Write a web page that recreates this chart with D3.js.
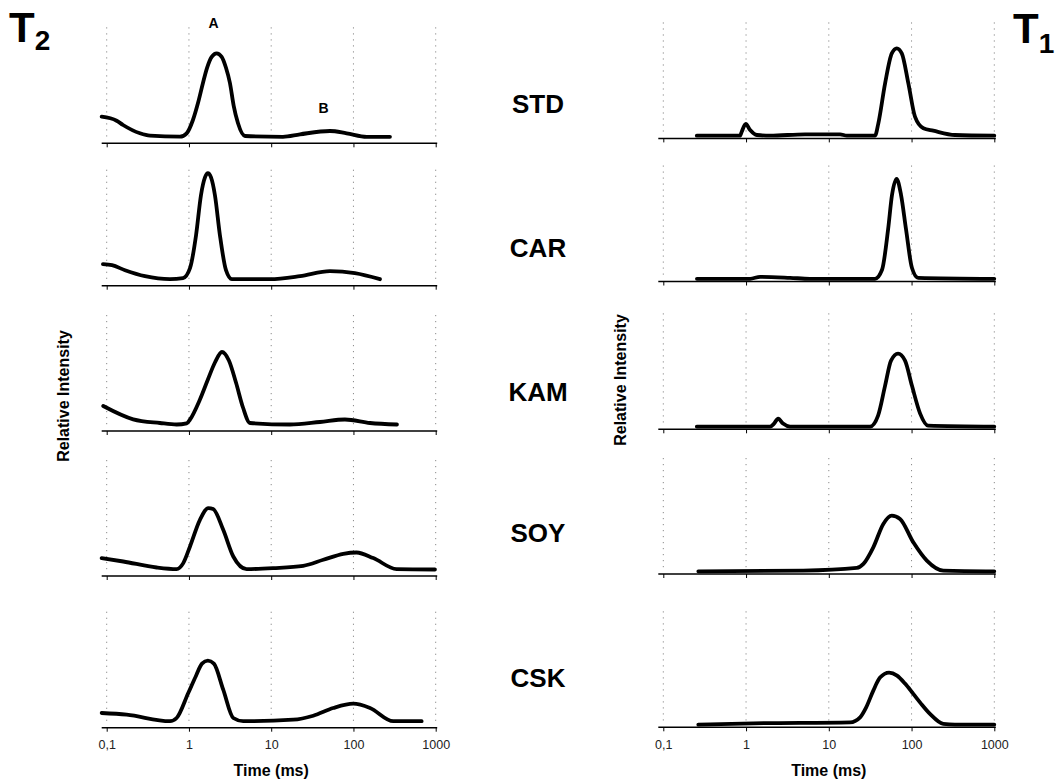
<!DOCTYPE html>
<html>
<head>
<meta charset="utf-8">
<script src="https://cdn.jsdelivr.net/npm/d3@7"></script>
<style>
  html, body { margin: 0; padding: 0; background: #fff; }
  svg { display: block; font-family: "Liberation Sans", Arial, Helvetica, sans-serif; }
</style>
</head>
<body>
<svg id="chart" width="1059" height="783"></svg>
<script>
// Relaxation time distributions, T2 (left column) and T1 (right column)
const samples = ["STD", "CAR", "KAM", "SOY", "CSK"];
const tickValues = [0.1, 1, 10, 100, 1000];
const tickLabels = ["0,1", "1", "10", "100", "1000"];

// [time (ms), relative intensity (a.u.)]
const t2STD = [[0.0868,20.1],[0.132,16.1],[0.158,11.8],[0.254,3.5],[0.336,1.1],[0.778,0.1],[0.938,3.5],[1.118,16.8],[1.30,35],[1.48,53.8],[1.66,69],[1.89,80],[2.17,83.5],[2.50,80],[2.82,69],[3.15,53.8],[3.50,31],[3.94,13.8],[4.80,0.8],[13.9,0],[22.4,2.5],[51.8,5.8],[82.6,3.5],[145,0],[278,0]];
const t2CAR = [[0.090,15],[0.116,14],[0.167,9],[0.292,3],[0.588,0],[0.846,1],[1.03,11],[1.22,44],[1.40,84],[1.57,102],[1.70,106],[1.85,102],[2.07,84],[2.38,44],[2.82,9],[3.33,0],[9.66,0],[22.4,3],[51.8,8],[104,6],[210,0]];
const t2KAM = [[0.0908,18.5],[0.210,5.2],[0.444,1.5],[0.708,0],[0.938,1.2],[1.03,5],[1.36,25],[1.70,45],[2.07,62],[2.52,72.5],[3.06,64],[3.73,42],[4.54,17],[5.52,1.5],[16.9,0],[39.2,2.5],[78.8,5],[159,1.5],[338,0]];
const t2SOY = [[0.0868,11.4],[0.159,8],[0.405,2],[0.708,0.4],[0.853,6.4],[1.03,23],[1.36,49.7],[1.72,61.4],[1.97,60.4],[2.61,39.7],[3.46,13],[5.03,0.4],[10.6,1.4],[24.5,3.7],[43.0,9.7],[75.2,15.7],[109,17],[174,11.4],[335,0.4],[979,0]];
const t2CSK = [[0.0868,8.2],[0.175,6.5],[0.588,0],[0.708,3.2],[0.981,28.2],[1.22,45.5],[1.44,57.5],[1.70,60.5],[2.01,57.5],[2.61,31.5],[3.46,3.2],[4.57,0],[18.5,1.5],[32.5,5.5],[56.8,13.2],[99.5,17.5],[159,13.2],[305,0],[675,0]];

const t1STD = [[0.254,0],[0.846,0],[0.887,4],[0.992,11.7],[1.12,5.7],[1.35,0.7],[1.95,0],[5.16,1.4],[13.7,1.4],[16.5,0],[36.2,0],[39.7,12.4],[47.9,52.4],[57.7,82.4],[66.3,87.4],[76.2,82.4],[91.5,52.4],[110,19],[139,7.4],[183,5],[335,0.7],[1000,0]];
const t1CAR = [[0.255,0],[1.12,0],[1.48,2],[3.40,1],[5.93,0],[36.2,0],[44.0,9],[52.0,49],[58.1,84],[65.9,100],[74.6,84],[85.9,49],[101,11],[120,1],[1000,0]];
const t1KAM = [[0.254,0],[1.95,0],[2.18,3],[2.44,8],[2.80,3],[3.40,0],[31.5,0],[39.4,11],[47.9,41],[56.5,66],[68.7,73],[83.4,66],[101,41],[127,13],[158,1],[1000,0]];
const t1SOY = [[0.265,0],[4.92,0.7],[21.8,3.4],[26.2,7.4],[34.5,24],[45.6,47.4],[57.6,55.7],[72.6,52.4],[105,29],[153,10.7],[242,0.7],[1000,0]];
const t1CSK = [[0.265,0],[1.22,1.3],[18.1,2.3],[23.9,7.3],[28.2,17],[34.5,34],[41.6,47],[53.5,52],[66.8,49],[83.4,41],[105,30.7],[130,21],[167,10.7],[242,0.7],[335,0],[1000,0]];

const t2Series = [t2STD, t2CAR, t2KAM, t2SOY, t2CSK];
const t1Series = [t1STD, t1CAR, t1KAM, t1SOY, t1CSK];

const svg = d3.select("#chart");

const columns = [
  { series: t2Series, x0: 106.7, x1: 435.7, axisY: [143.3, 285.7, 431, 576, 727.7], lift: 6.5, ylabel: [63, 396] },
  { series: t1Series, x0: 663.3, x1: 994.3, axisY: [138.4, 281.5, 429.3, 574, 727.3], lift: 2.7, ylabel: [620, 380] }
];
const panelH = 116;

columns.forEach(col => {
  const x = d3.scaleLog().domain([0.1, 1000]).range([col.x0, col.x1]);
  col.series.forEach((data, i) => {
    const ay = col.axisY[i];
    const y = d3.scaleLinear().domain([0, 100]).range([ay - col.lift, ay - col.lift - 100]);
    const g = svg.append("g");

    // dotted vertical grid at each decade
    g.selectAll("line.grid").data(tickValues).join("line")
      .attr("class", "grid")
      .attr("x1", d => x(d)).attr("x2", d => x(d))
      .attr("y1", ay - panelH).attr("y2", ay - 2)
      .attr("stroke", "#8a8a8a").attr("stroke-width", 1)
      .attr("stroke-dasharray", "1.2,4.8");

    // baseline axis
    const isBottom = i === col.series.length - 1;
    const axis = d3.axisBottom(x).tickValues(tickValues).tickSize(4).tickSizeOuter(0)
      .tickFormat((d, k) => isBottom ? tickLabels[k] : "");
    const ag = g.append("g").attr("transform", `translate(0,${ay})`).call(axis);
    ag.select(".domain").remove();
    ag.selectAll(".tick line").attr("stroke", "#000").attr("stroke-width", 1);
    ag.selectAll(".tick text").attr("font-size", 12.5).attr("fill", "#222").attr("dy", "1.15em")
      .attr("font-family", "'Liberation Sans', Arial, sans-serif");
    g.append("line")
      .attr("x1", x(0.1) - 5).attr("x2", x(1000) + 1.5)
      .attr("y1", ay).attr("y2", ay)
      .attr("stroke", "#000").attr("stroke-width", 1.5);

    // distribution curve
    const line = d3.line().x(d => x(d[0])).y(d => y(d[1])).curve(d3.curveMonotoneX);
    g.append("path").datum(data).attr("d", line)
      .attr("fill", "none").attr("stroke", "#000").attr("stroke-width", 3.8)
      .attr("stroke-linecap", "round").attr("stroke-linejoin", "round");

    if (isBottom) {
      g.append("text").attr("x", (col.x0 + col.x1) / 2).attr("y", 776)
        .attr("text-anchor", "middle").attr("font-weight", "bold").attr("font-size", 16)
        .text("Time (ms)");
    }
  });

  svg.append("text")
    .attr("transform", `translate(${col.ylabel[0]},${col.ylabel[1]}) rotate(-90)`)
    .attr("text-anchor", "middle").attr("dominant-baseline", "central")
    .attr("font-weight", "bold").attr("font-size", 16)
    .text("Relative Intensity");
});

// sample names between the columns
const labelY = [104, 248, 392, 533, 678];
svg.selectAll("text.sample").data(samples).join("text")
  .attr("class", "sample")
  .attr("x", 538).attr("y", (d, i) => labelY[i])
  .attr("text-anchor", "middle").attr("dominant-baseline", "central")
  .attr("font-weight", "bold").attr("font-size", 26)
  .text(d => d);

// peak markers on the T2 STD panel
svg.append("text").attr("x", 213.5).attr("y", 28).attr("text-anchor", "middle")
  .attr("font-weight", "bold").attr("font-size", 14).text("A");
svg.append("text").attr("x", 323.5).attr("y", 113).attr("text-anchor", "middle")
  .attr("font-weight", "bold").attr("font-size", 14).text("B");

// column titles
const t2 = svg.append("text").attr("x", 9).attr("y", 42).attr("font-weight", "bold");
t2.append("tspan").attr("font-size", 42).text("T");
t2.append("tspan").attr("font-size", 28).attr("dy", 8).text("2");
const t1 = svg.append("text").attr("x", 1013).attr("y", 43).attr("font-weight", "bold");
t1.append("tspan").attr("font-size", 42).text("T");
t1.append("tspan").attr("font-size", 28).attr("dy", 10).text("1");
</script>
</body>
</html>
